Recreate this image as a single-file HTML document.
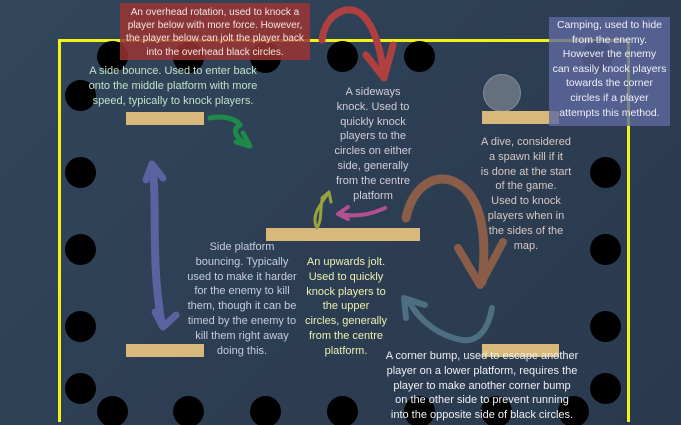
<!DOCTYPE html>
<html><head><meta charset="utf-8"><style>
html,body{margin:0;padding:0;width:681px;height:425px;overflow:hidden;}
body{position:relative;background:linear-gradient(135deg,#32465c 0%,#2c3d52 60%,#2a3a4e 100%);font-family:"Liberation Sans",sans-serif;}
.t{position:absolute;text-align:center;font-size:11px;line-height:14.8px;white-space:nowrap;}
.p{position:absolute;background:#d9b87c;}
.c{position:absolute;border-radius:50%;background:#000;width:31px;height:31px;}
</style></head><body>
<div style="position:absolute;left:58px;top:39px;width:566px;height:380px;border:3px solid #f2f21a;border-bottom:none;"></div>
<div class="c" style="left:97px;top:41px"></div>
<div class="c" style="left:173px;top:42px"></div>
<div class="c" style="left:250px;top:42px"></div>
<div class="c" style="left:327px;top:41px"></div>
<div class="c" style="left:404px;top:41px"></div>
<div class="c" style="left:582px;top:41px"></div>
<div class="c" style="left:65px;top:80px"></div>
<div class="c" style="left:65px;top:157px"></div>
<div class="c" style="left:65px;top:234px"></div>
<div class="c" style="left:65px;top:311px"></div>
<div class="c" style="left:65px;top:373px"></div>
<div class="c" style="left:97px;top:396px"></div>
<div class="c" style="left:173px;top:396px"></div>
<div class="c" style="left:250px;top:396px"></div>
<div class="c" style="left:327px;top:396px"></div>
<div class="c" style="left:404px;top:396px"></div>
<div class="c" style="left:481px;top:396px"></div>
<div class="c" style="left:558px;top:396px"></div>
<div class="c" style="left:590px;top:157px"></div>
<div class="c" style="left:590px;top:234px"></div>
<div class="c" style="left:590px;top:311px"></div>
<div class="c" style="left:590px;top:373px"></div>
<div style="position:absolute;left:483px;top:74px;width:36px;height:36px;border-radius:50%;background:rgba(120,130,140,0.75);border:1px solid rgba(160,170,180,0.5)"></div>
<div class="p" style="left:126px;top:112px;width:78px;height:13px"></div>
<div class="p" style="left:266px;top:228px;width:154px;height:13px"></div>
<div class="p" style="left:482px;top:111px;width:77px;height:13px"></div>
<div class="p" style="left:126px;top:344px;width:78px;height:13px"></div>
<div class="p" style="left:482px;top:344px;width:77px;height:13px"></div>
<svg width="681" height="425" style="position:absolute;left:0;top:0" fill="none" stroke-linecap="round" stroke-linejoin="round">
<path d="M322,40 C325,15 345,5 358,12 C372,20 380,45 384,75" stroke="#b04040" stroke-width="7"/>
<path d="M366,55 L384,78 L393,45" stroke="#b04040" stroke-width="7"/>
<path d="M210,118 C225,115 238,120 240,125 C230,130 238,140 248,146" stroke="#1e8a4a" stroke-width="5"/>
<path d="M236,142 L250,146 L243,133" stroke="#1e8a4a" stroke-width="5"/>
<path d="M152,165 C158,200 150,260 162,325" stroke="#5a62a0" stroke-width="8"/>
<path d="M146,180 L152,164 L163,178" stroke="#5a62a0" stroke-width="7"/>
<path d="M155,312 L163,327 L176,315" stroke="#5a62a0" stroke-width="7"/>
<path d="M406,218 C412,190 430,175 450,180 C480,190 488,230 482,282" stroke="#8a5d48" stroke-width="9"/>
<path d="M458,248 L480,285 L503,242" stroke="#8a5d48" stroke-width="8"/>
<path d="M492,308 C488,330 478,342 462,340 C440,336 420,322 408,300" stroke="#4e6e82" stroke-width="6"/>
<path d="M406,318 L404,298 L425,305" stroke="#4e6e82" stroke-width="6"/>
<path d="M385,208 C370,215 355,217 340,214" stroke="#b0508e" stroke-width="4"/>
<path d="M348,207 L338,214 L348,219" stroke="#b0508e" stroke-width="4"/>
<path d="M316,226 C312,215 320,205 327,195 M322,200 C320,210 322,220 317,228" stroke="#9aa23a" stroke-width="3"/>
<path d="M322,198 L329,192 L331,202" stroke="#9aa23a" stroke-width="3"/>
</svg>
<div class="t" style="left:120px;top:3px;width:190px;height:57px;background:rgba(155,52,52,0.85);color:#f3e6e0;padding-top:3px;box-sizing:border-box;font-size:10px;line-height:13.2px">An overhead rotation, used to knock a<br>player below with more force. However,<br>the player below can jolt the player back<br>into the overhead black circles.</div>
<div class="t" style="left:549px;top:17px;width:121px;height:109px;background:rgba(95,105,160,0.8);color:#f0f0f6;padding-top:1px;box-sizing:border-box;font-size:10.5px;line-height:14.6px">Camping, used to hide<br>from the enemy.<br>However the enemy<br>can easily knock players<br>towards the corner<br>circles if a player<br>attempts this method.</div>
<div class="t" style="left:73px;top:64px;width:200px;color:#bfe3c8">A side bounce. Used to enter back<br>onto the middle platform with more<br>speed, typically to knock players.</div>
<div class="t" style="left:323px;top:85px;width:100px;color:#d3cdd8">A sideways<br>knock. Used to<br>quickly knock<br>players to the<br>circles on either<br>side, generally<br>from the centre<br>platform</div>
<div class="t" style="left:470px;top:135px;width:112px;color:#d8c8c0">A dive, considered<br>a spawn kill if it<br>is done at the start<br>of the game.<br>Used to knock<br>players when in<br>the sides of the<br>map.</div>
<div class="t" style="left:172px;top:240px;width:140px;color:#c8ccdc">Side platform<br>bouncing. Typically<br>used to make it harder<br>for the enemy to kill<br>them, though it can be<br>timed by the enemy to<br>kill them right away<br>doing this.</div>
<div class="t" style="left:298px;top:255px;width:96px;color:#ecf0b0">An upwards jolt.<br>Used to quickly<br>knock players to<br>the upper<br>circles, generally<br>from the centre<br>platform.</div>
<div class="t" style="left:372px;top:349px;width:220px;color:#eef0f2">A corner bump, used to escape another<br>player on a lower platform, requires the<br>player to make another corner bump<br>on the other side to prevent running<br>into the opposite side of black circles.</div>
</body></html>
